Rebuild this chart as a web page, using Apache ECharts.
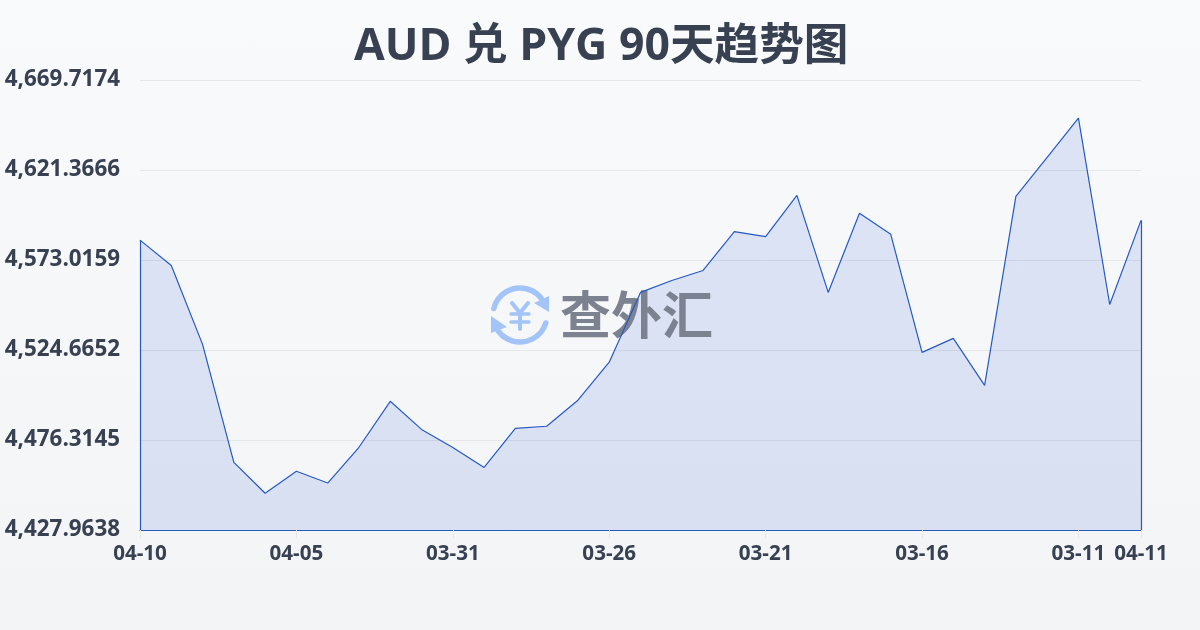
<!DOCTYPE html>
<html><head><meta charset="utf-8">
<style>html,body{margin:0;padding:0;width:1200px;height:630px;overflow:hidden;background:linear-gradient(180deg,#f9fafc 0%,#f3f4f6 100%);}#c{width:1200px;height:630px;}</style>
<script src="https://cdn.jsdelivr.net/npm/echarts@6/dist/echarts.min.js"></script>
</head><body><div id="c"></div>
<script>
const titleText = 'AUD 兑 PYG 90天趋势图';
const categories = ['04-10','04-09','04-08','04-07','04-06','04-05','04-04','04-03','04-02','04-01','03-31','03-30','03-29','03-28','03-27','03-26','03-25','03-24','03-23','03-22','03-21','03-20','03-19','03-18','03-17','03-16','03-15','03-14','03-13','03-12','03-11','03-10','04-11'];
const values = [4583.7,4570.1,4527.7,4464.3,4447.7,4459.5,4453.2,4472.4,4497.1,4482.0,4472.3,4461.6,4482.6,4483.7,4497.7,4518.1,4555.6,4562.0,4567.4,4588.3,4585.6,4607.7,4555.6,4598.1,4586.8,4523.4,4530.9,4505.7,4607.2,4628.2,4649.2,4549.1,4594.3];
const yTicks = [4427.9638,4476.3145,4524.6652,4573.0159,4621.3666,4669.7174];
const font = '"Open Sans","Noto Sans CJK SC",sans-serif';
const lineColor = '#2659c4';
const textColor = '#374151';
const last = categories.length - 1;
const showX = (i) => i % 5 === 0 || i === last;
const chart = echarts.init(document.getElementById('c'), null, {renderer:'canvas'});
chart.setOption({
  animation:false,
  backgroundColor:'transparent',
  title:{text:titleText,left:354,top:25,padding:0,textStyle:{fontFamily:font,fontSize:44.6,fontWeight:'bold',color:textColor}},
  grid:{left:140,right:59,top:80,bottom:100,containLabel:false,outerBoundsMode:'none'},
  xAxis:{type:'category',boundaryGap:false,data:categories,
    axisLine:{show:true,lineStyle:{color:lineColor,width:1.2}},
    axisTick:{show:true,interval:(i)=>showX(i),length:8,lineStyle:{color:'#e5e7eb',width:1}},
    axisLabel:{show:true,interval:(i)=>showX(i),hideOverlap:false,margin:14,fontFamily:font,fontSize:20.6,fontWeight:'bold',color:textColor},
    splitLine:{show:false}},
  yAxis:{type:'value',min:yTicks[0],max:yTicks[yTicks.length-1],
    axisLine:{show:false},
    axisTick:{show:false,customValues:yTicks},
    axisLabel:{customValues:yTicks,margin:20,fontFamily:font,fontSize:22.4,fontWeight:'bold',color:textColor,
      formatter:(v)=>v.toLocaleString('en-US',{minimumFractionDigits:4,maximumFractionDigits:4})},
    splitLine:{show:true,lineStyle:{color:'#e5e7eb',width:1}}},
  series:[
   {type:'line',data:values,symbol:'none',z:2,lineStyle:{width:0},areaStyle:{color:'rgba(50,100,215,0.2)'}},
   {type:'line',data:values,symbol:'none',z:4,
    lineStyle:{color:lineColor,width:1.2},
    markLine:{silent:true,symbol:'none',animation:false,label:{show:false},
      lineStyle:{color:lineColor,width:1.2,type:'solid'},
      data:[[{coord:[0,values[0]]},{coord:[0,yTicks[0]]}],[{coord:[last,values[last]]},{coord:[last,yTicks[0]]}]]}}],
  graphic:[{type:'group',silent:true,children:[
    {type:'arc',shape:{cx:520,cy:315,r:27,startAngle:-2.9,endAngle:-0.5},style:{stroke:'#a3c4f8',lineWidth:5.5,fill:null,lineCap:'round'},z:3},
    {type:'arc',shape:{cx:520,cy:315,r:27,startAngle:0.3,endAngle:2.7},style:{stroke:'#a3c4f8',lineWidth:5.5,fill:null,lineCap:'round'},z:3},
    {type:'polygon',shape:{points:[[549,296],[549,312],[534,303]]},style:{fill:'#a3c4f8'},z:3},
    {type:'polygon',shape:{points:[[491,316],[491,333],[507,327]]},style:{fill:'#a3c4f8'},z:3},
    {type:'polyline',shape:{points:[[512,303],[520,313],[528,303]]},style:{stroke:'#a3c4f8',lineWidth:4,fill:null,lineCap:'round'},z:3},
    {type:'line',shape:{x1:511,y1:314,x2:529,y2:314},style:{stroke:'#a3c4f8',lineWidth:3.5,lineCap:'round'},z:3},
    {type:'line',shape:{x1:511,y1:322,x2:529,y2:322},style:{stroke:'#a3c4f8',lineWidth:3.5,lineCap:'round'},z:3},
    {type:'line',shape:{x1:520,y1:313,x2:520,y2:329},style:{stroke:'#a3c4f8',lineWidth:4,lineCap:'round'},z:3},
    {type:'text',style:{text:'查外汇',x:560,y:315,align:'left',verticalAlign:'middle',font:'bold 51px "Noto Sans CJK SC",sans-serif',fill:'#7c8290'},z:3}
  ]}]
});
</script></body></html>
